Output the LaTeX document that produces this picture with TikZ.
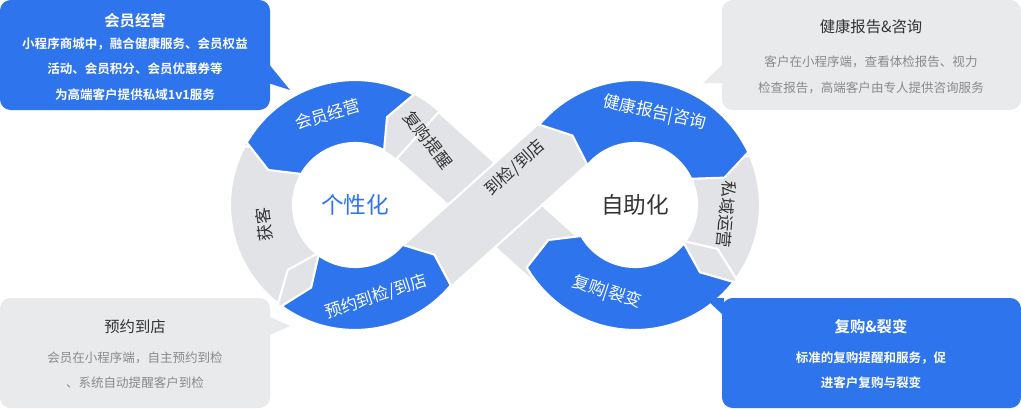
\documentclass[tikz,border=0pt]{standalone}
\usepackage{fontspec}
\setmainfont{Noto Sans CJK SC}
\newfontfamily\boldcjk{Noto Sans CJK SC Bold}
\usetikzlibrary{calc}
\definecolor{bl}{HTML}{2E74EC}
\definecolor{gr}{HTML}{E1E3E6}
\definecolor{bx}{HTML}{E9EAEC}
\definecolor{tx}{HTML}{333333}
\definecolor{lt}{HTML}{8A8A8A}
\tikzset{seglab/.style={font=\fontsize{12.5}{12.5}\selectfont,inner sep=1pt},
 wlab/.style={seglab,text=white},
 glab/.style={seglab,text=tx},
 rim/.style={draw=white,line width=1.6pt,line join=miter},
 boxtitle/.style={font=\fontsize{11.5}{13}\selectfont},
 boxtext/.style={font=\fontsize{9.4}{19}\selectfont,align=center}}
% \segm{center}{a1}{a2}{tip}{color}
\newcommand{\segm}[5]{\fill[#5,rim] ($(#1)+(#2:125)$) arc[start angle=#2,end angle=#3,radius=125]
  -- ($(#1)+({#3+#4}:93.5)$) -- ($(#1)+(#3:62)$) arc[start angle=#3,end angle=#2,radius=62]
  -- ($(#1)+({#2+#4}:93.5)$) -- cycle;}
\begin{document}
\begin{tikzpicture}[x=0.75pt,y=0.75pt]
\useasboundingbox (0,0) rectangle (1021,408);
\coordinate (CL) at (355,203);
\coordinate (CR) at (635,203);
% grey rings
\fill[gr] ($(CL)+(45:125)$) arc[start angle=45,end angle=315,radius=125] -- ($(CL)+(315:62)$) arc[start angle=315,end angle=45,radius=62] -- cycle;
\fill[gr] ($(CR)+(-135:125)$) arc[start angle=-135,end angle=135,radius=125] -- ($(CR)+(135:62)$) arc[start angle=135,end angle=-135,radius=62] -- cycle;
% bands
\fill[gr,rim] ($(CL)+(48:62)$) -- ($(CL)+(48:125)$) -- ($(CR)+(228:62)$) -- ($(CR)+(228:93.5)+(138:-14)$) -- ($(CR)+(228:125)$) -- cycle;
\fill[gr,rim] ($(CL)+(-48:62)$) -- ($(CL)+(-48:125)$) -- ($(CR)+(132:62)$) -- ($(CR)+(132:93.5)+(42:14)$) -- ($(CR)+(132:125)$) -- cycle;
% segments
\segm{CL}{152}{232}{-8}{gr}
\segm{CL}{62}{150}{8}{bl}
\segm{CL}{234}{320}{8}{bl}
\segm{CR}{23}{-36}{8}{gr}
\segm{CR}{140}{25}{-8}{bl}
\segm{CR}{-38}{-150}{-8}{bl}
% labels
\node[wlab,rotate=17] (l1) at ($(CL)+(107:95)$) {会员经营};
\node[glab,rotate=97] (l2) at ($(CL)+(192:93)$) {获客};
\node[wlab,rotate=18] (l3) at ($(CL)+(283:94)$) {预约到检/到店};
\node[glab,rotate=-52] (l4) at (428,268) {复购提醒};
\node[glab,rotate=42] (l5) at (515,240) {到检/到店};
\node[wlab,rotate=-12] (l6) at ($(CR)+(78:94)$) {健康报告|咨询};
\node[glab,rotate=-95] (l7) at ($(CR)+(-6:92)$) {私域运营};
\node[wlab,rotate=-18] (l8) at ($(CR)+(252:92)$) {复购|裂变};
\node[text=bl,font=\fontsize{17}{17}\selectfont] (c1) at (CL) {个性化};
\node[text=tx,font=\fontsize{17}{17}\selectfont] (c2) at (CR) {自助化};
% callouts
\fill[bl,rounded corners=8] (0,298) rectangle (270,408);
\fill[bl] (268,345) -- (290,318) -- (268,325) -- cycle;
\node[boxtitle,text=white] (t1) at (135,387) {\boldcjk 会员经营};
\node[boxtext,text=white] (b1) at (135,339) {\boldcjk 小程序商城中，融合健康服务、会员权益\\\boldcjk 活动、会员积分、会员优惠券等\\\boldcjk 为高端客户提供私域1v1服务};
\fill[bx,rounded corners=8] (0,0) rectangle (270,110);
\fill[bx] (268,92) -- (290,82) -- (268,72) -- cycle;
\node[boxtitle,text=tx] (t2) at (135,81) {预约到店};
\node[boxtext,text=lt] (b2) at (135,38) {会员在小程序端，自主预约到检\\、系统自动提醒客户到检};
\fill[bx,rounded corners=8] (722,298) rectangle (1021,408);
\fill[bx] (724,345) -- (703,325) -- (724,325) -- cycle;
\node[boxtitle,text=tx] (t3) at (871,381) {健康报告\&咨询};
\node[boxtext,text=lt] (b3) at (871,333) {客户在小程序端，查看体检报告、视力\\检查报告，高端客户由专人提供咨询服务};
\fill[bl,rounded corners=8] (722,0) rectangle (1021,110);
\fill[bl] (724,92) -- (705,110) -- (724,110) -- cycle;
\node[boxtitle,text=white] (t4) at (871,81) {\boldcjk 复购\&裂变};
\node[boxtext,text=white] (b4) at (871,38) {\boldcjk 标准的复购提醒和服务，促\\\boldcjk 进客户复购与裂变};
\end{tikzpicture}
\end{document}
